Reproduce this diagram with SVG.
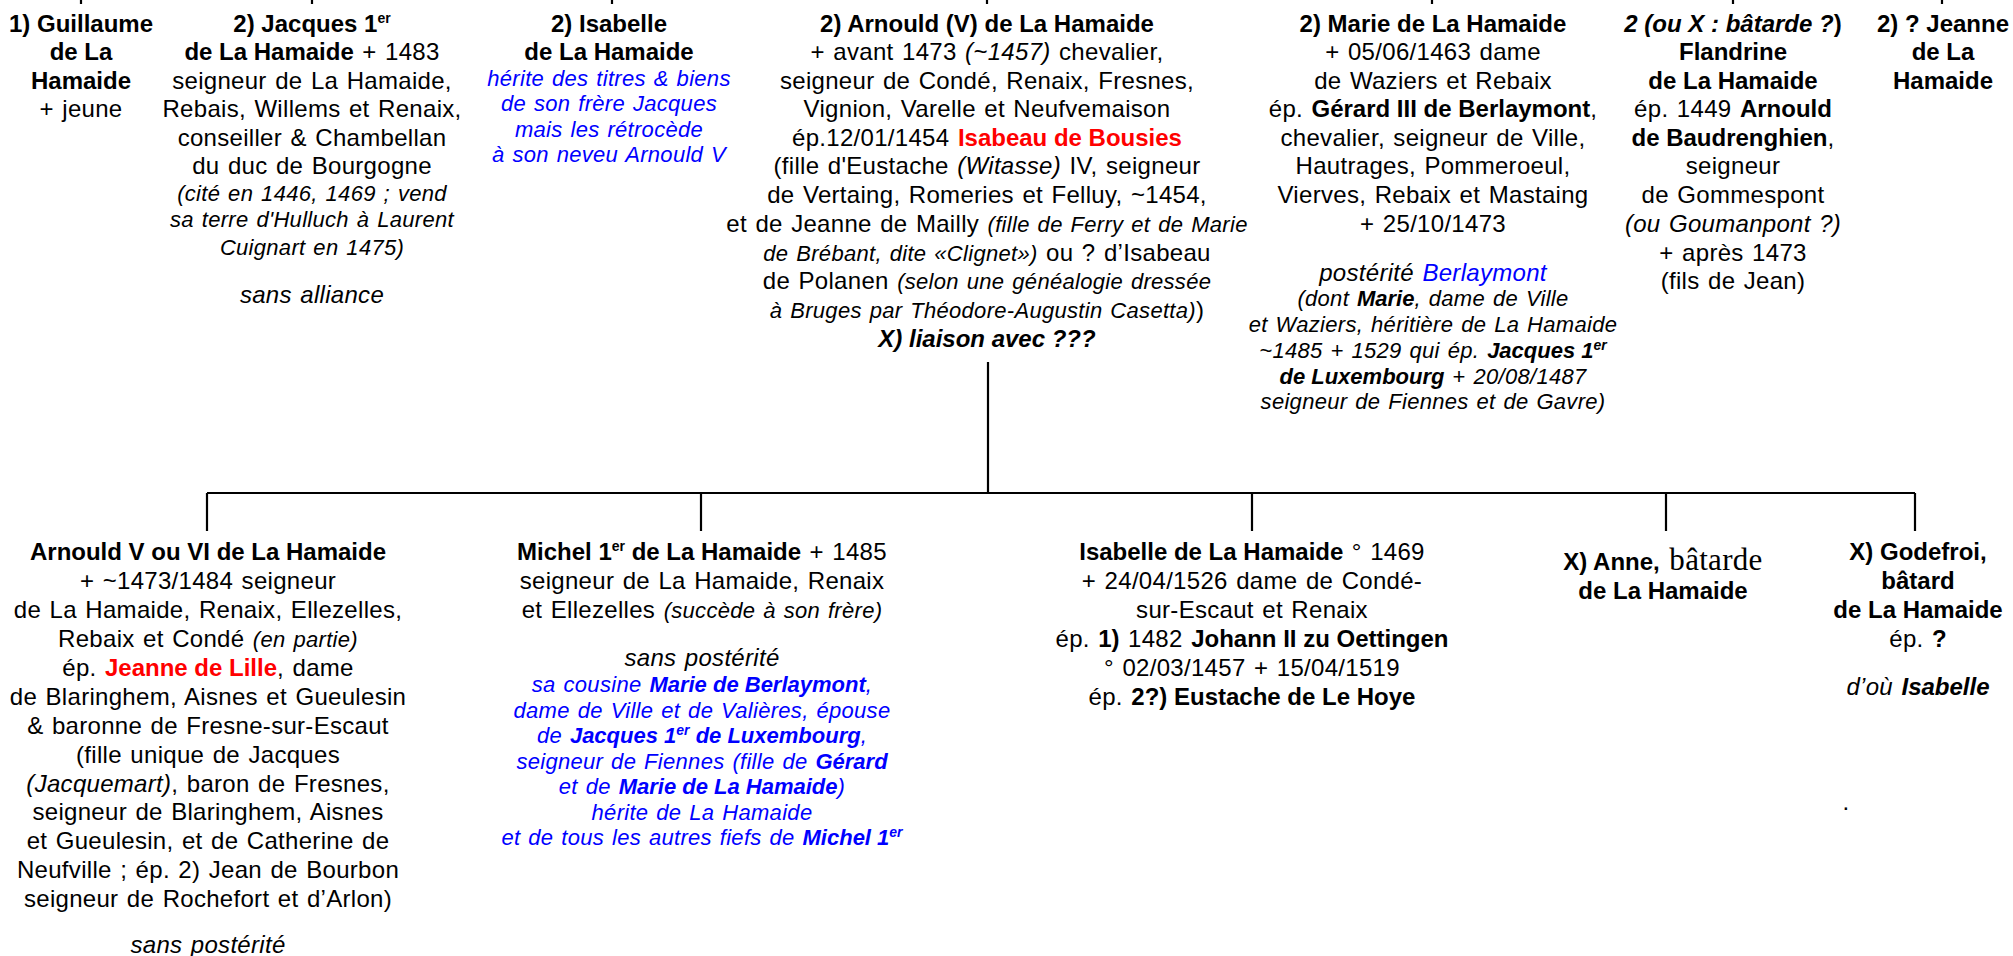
<svg xmlns="http://www.w3.org/2000/svg" width="2013" height="956" viewBox="0 0 2013 956">
<style>
text{font-family:"Liberation Sans",Arial,sans-serif;font-size:24px;fill:#000;text-anchor:middle;letter-spacing:0.3px;word-spacing:1.5px}
.b{font-weight:bold;letter-spacing:0;word-spacing:0}
.i{font-style:italic}
.s{font-size:22px}
.blue{fill:#0000ff}
.red{fill:#ff0000;font-weight:bold;letter-spacing:0;word-spacing:0}
.sup{font-size:14px}
.serif{font-family:"Liberation Serif","Times New Roman",serif;font-size:31px;font-weight:normal}
.ln{stroke:#000;stroke-width:2.2;fill:none}
</style>
<rect width="2013" height="956" fill="#fff"/>
<g id="connectors" class="ln">
<path d="M81 0V4M312 0V4M612 0V4M987 0V4M1432 0V4M1733 0V4M1942 0V4"/>
<path d="M988 362V493M207 493H1915M207 493V531M701 493V531M1252 493V531M1666 493V531M1915 493V531"/>
</g>
<g id="n-guillaume">
<text x="81" y="32" class="b">1) Guillaume</text>
<text x="81" y="60" class="b">de La</text>
<text x="81" y="89" class="b">Hamaide</text>
<text x="81" y="117">+ jeune</text>
</g>
<g id="n-jacques">
<text x="312" y="32"><tspan class="b">2) Jacques 1</tspan><tspan class="sup b" dy="-9">er</tspan></text>
<text x="312" y="60"><tspan class="b">de La Hamaide</tspan> + 1483</text>
<text x="312" y="89">seigneur de La Hamaide,</text>
<text x="312" y="117">Rebais, Willems et Renaix,</text>
<text x="312" y="146">conseiller &amp; Chambellan</text>
<text x="312" y="174">du duc de Bourgogne</text>
<text x="312" y="201" class="i s">(cité en 1446, 1469 ; vend</text>
<text x="312" y="227" class="i s">sa terre d'Hulluch à Laurent</text>
<text x="312" y="255" class="i s">Cuignart en 1475)</text>
<text x="312" y="303" class="i">sans alliance</text>
</g>
<g id="n-isabelle-top">
<text x="609" y="32" class="b">2) Isabelle</text>
<text x="609" y="60" class="b">de La Hamaide</text>
<text x="609" y="86" class="i s blue">hérite des titres &amp; biens</text>
<text x="609" y="111" class="i s blue">de son frère Jacques</text>
<text x="609" y="137" class="i s blue">mais les rétrocède</text>
<text x="609" y="162" class="i s blue">à son neveu Arnould V</text>
</g>
<g id="n-arnould">
<text x="987" y="32" class="b">2) Arnould (V) de La Hamaide</text>
<text x="987" y="60">+ avant 1473 <tspan class="i">(~1457)</tspan> chevalier,</text>
<text x="987" y="89">seigneur de Condé, Renaix, Fresnes,</text>
<text x="987" y="117">Vignion, Varelle et Neufvemaison</text>
<text x="987" y="146">ép.12/01/1454 <tspan class="red">Isabeau de Bousies</tspan></text>
<text x="987" y="174">(fille d'Eustache <tspan class="i">(Witasse)</tspan> IV, seigneur</text>
<text x="987" y="203">de Vertaing, Romeries et Felluy, ~1454,</text>
<text x="987" y="232">et de Jeanne de Mailly <tspan class="i s">(fille de Ferry et de Marie</tspan></text>
<text x="987" y="261"><tspan class="i s">de Brébant, dite «Clignet»)</tspan> ou ? d’Isabeau</text>
<text x="987" y="289">de Polanen <tspan class="i s">(selon une généalogie dressée</tspan></text>
<text x="987" y="318"><tspan class="i s">à Bruges par Théodore-Augustin Casetta)</tspan>)</text>
<text x="987" y="347" class="b i">X) liaison avec ???</text>
</g>
<g id="n-marie">
<text x="1433" y="32" class="b">2) Marie de La Hamaide</text>
<text x="1433" y="60">+ 05/06/1463 dame</text>
<text x="1433" y="89">de Waziers et Rebaix</text>
<text x="1433" y="117">ép. <tspan class="b">Gérard III de Berlaymont</tspan>,</text>
<text x="1433" y="146">chevalier, seigneur de Ville,</text>
<text x="1433" y="174">Hautrages, Pommeroeul,</text>
<text x="1433" y="203">Vierves, Rebaix et Mastaing</text>
<text x="1433" y="232">+ 25/10/1473</text>
<text x="1433" y="281" class="i">postérité <tspan class="blue">Berlaymont</tspan></text>
<text x="1433" y="306" class="i s">(dont <tspan class="b">Marie</tspan>, dame de Ville</text>
<text x="1433" y="332" class="i s">et Waziers, héritière de La Hamaide</text>
<text x="1433" y="358" class="i s">~1485 + 1529 qui ép. <tspan class="b">Jacques 1</tspan><tspan class="sup b" dy="-8">er</tspan></text>
<text x="1433" y="384" class="i s"><tspan class="b">de Luxembourg</tspan> + 20/08/1487</text>
<text x="1433" y="409" class="i s">seigneur de Fiennes et de Gavre)</text>
</g>
<g id="n-flandrine">
<text x="1733" y="32" class="b"><tspan class="i">2 (ou X : bâtarde ?</tspan>)</text>
<text x="1733" y="60" class="b">Flandrine</text>
<text x="1733" y="89" class="b">de La Hamaide</text>
<text x="1733" y="117">ép. 1449 <tspan class="b">Arnould</tspan></text>
<text x="1733" y="146"><tspan class="b">de Baudrenghien</tspan>,</text>
<text x="1733" y="174">seigneur</text>
<text x="1733" y="203">de Gommespont</text>
<text x="1733" y="232" class="i">(ou Goumanpont ?)</text>
<text x="1733" y="261">+ après 1473</text>
<text x="1733" y="289">(fils de Jean)</text>
</g>
<g id="n-jeanne">
<text x="1943" y="32" class="b">2) ? Jeanne</text>
<text x="1943" y="60" class="b">de La</text>
<text x="1943" y="89" class="b">Hamaide</text>
</g>
<g id="n-arnould-vi">
<text x="208" y="560" class="b">Arnould V ou VI de La Hamaide</text>
<text x="208" y="589">+ ~1473/1484 seigneur</text>
<text x="208" y="618">de La Hamaide, Renaix, Ellezelles,</text>
<text x="208" y="647">Rebaix et Condé <tspan class="i s">(en partie)</tspan></text>
<text x="208" y="676">ép. <tspan class="red">Jeanne de Lille</tspan>, dame</text>
<text x="208" y="705">de Blaringhem, Aisnes et Gueulesin</text>
<text x="208" y="734">&amp; baronne de Fresne-sur-Escaut</text>
<text x="208" y="763">(fille unique de Jacques</text>
<text x="208" y="792"><tspan class="i">(Jacquemart)</tspan>, baron de Fresnes,</text>
<text x="208" y="820">seigneur de Blaringhem, Aisnes</text>
<text x="208" y="849">et Gueulesin, et de Catherine de</text>
<text x="208" y="878">Neufville ; ép. 2)  Jean de Bourbon</text>
<text x="208" y="907">seigneur de Rochefort et d’Arlon)</text>
<text x="208" y="953" class="i">sans postérité</text>
</g>
<g id="n-michel">
<text x="702" y="560"><tspan class="b">Michel 1</tspan><tspan class="sup b" dy="-9">er</tspan><tspan class="b" dy="9"> de La Hamaide</tspan> + 1485</text>
<text x="702" y="589">seigneur de La Hamaide, Renaix</text>
<text x="702" y="618">et Ellezelles <tspan class="i s">(succède à son frère)</tspan></text>
<text x="702" y="666" class="i">sans postérité</text>
<text x="702" y="692" class="i s blue">sa cousine <tspan class="b">Marie de Berlaymont</tspan>,</text>
<text x="702" y="718" class="i s blue">dame de Ville et de Valières, épouse</text>
<text x="702" y="743" class="i s blue">de <tspan class="b">Jacques 1</tspan><tspan class="sup b" dy="-8">er</tspan><tspan class="b" dy="8"> de Luxembourg</tspan>,</text>
<text x="702" y="769" class="i s blue">seigneur de Fiennes (fille de <tspan class="b">Gérard</tspan></text>
<text x="702" y="794" class="i s blue">et de <tspan class="b">Marie de La Hamaide</tspan>)</text>
<text x="702" y="820" class="i s blue">hérite de La Hamaide</text>
<text x="702" y="845" class="i s blue">et de tous les autres fiefs de <tspan class="b">Michel 1</tspan><tspan class="sup b" dy="-8">er</tspan></text>
</g>
<g id="n-isabelle">
<text x="1252" y="560"><tspan class="b">Isabelle de La Hamaide</tspan> ° 1469</text>
<text x="1252" y="589">+ 24/04/1526 dame de Condé-</text>
<text x="1252" y="618">sur-Escaut et Renaix</text>
<text x="1252" y="647">ép. <tspan class="b">1)</tspan> 1482 <tspan class="b">Johann II zu Oettingen</tspan></text>
<text x="1252" y="676">° 02/03/1457 + 15/04/1519</text>
<text x="1252" y="705">ép. <tspan class="b">2?) Eustache de Le Hoye</tspan></text>
</g>
<g id="n-anne">
<text x="1663" y="570"><tspan class="b">X) Anne,</tspan><tspan class="serif"> bâtarde</tspan></text>
<text x="1663" y="599" class="b">de La Hamaide</text>
</g>
<g id="n-godefroi">
<text x="1918" y="560" class="b">X) Godefroi,</text>
<text x="1918" y="589" class="b">bâtard</text>
<text x="1918" y="618" class="b">de La Hamaide</text>
<text x="1918" y="647">ép. <tspan class="b">?</tspan></text>
<text x="1918" y="695" class="i">d’où <tspan class="b">Isabelle</tspan></text>
<text x="1846" y="810">.</text>
</g>
</svg>
